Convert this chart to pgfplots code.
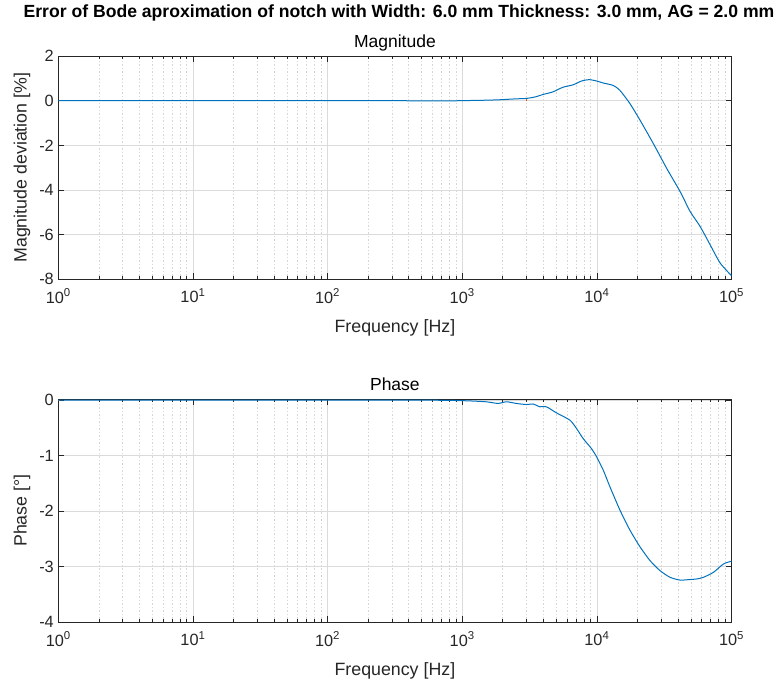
\documentclass[border=0pt]{standalone}
\usepackage{fontspec}
\setmainfont{Liberation Sans}
\usepackage{pgfplots}
\pgfplotsset{compat=1.18}
\definecolor{mblue}{rgb}{0,0.447,0.741}
\definecolor{morange}{rgb}{0.85,0.325,0.098}
\definecolor{mgray}{rgb}{0.15,0.15,0.15}
\pgfplotsset{
 mstyle/.style={
  scale only axis, width=673.2pt, height=223.3pt,
  xmin=1, xmax=100000,
  xtick={1,10,100,1000,10000,100000},
  xticklabels={10\textsuperscript{0},10\textsuperscript{1},10\textsuperscript{2},10\textsuperscript{3},10\textsuperscript{4},10\textsuperscript{5}},
  minor xtick={2,3,4,5,6,7,8,9,20,30,40,50,60,70,80,90,200,300,400,500,600,700,800,900,2000,3000,4000,5000,6000,7000,8000,9000,20000,30000,40000,50000,60000,70000,80000,90000},
  grid=both,
  major grid style={line width=0.6pt, draw=black!14},
  minor grid style={line width=0.6pt, draw=black!16, dash pattern=on 1.5pt off 2pt},
  axis line style={draw=mgray, line width=0.7pt},
  tick style={draw=mgray, line width=0.6pt},
  major tick length=6pt, minor tick length=3.5pt,
  tick align=inside,
  ticklabel style={font=\fontsize{16.3}{18}\selectfont, text=mgray},
  xticklabel style={yshift=-6pt},
  yticklabel style={xshift=-1pt},
  label style={font=\fontsize{17.8}{20}\selectfont, text=mgray},
  every axis title shift=0pt,
  title style={font=\fontsize{17.5}{20}\selectfont, text=black, at={(axis description cs:0.5,1)}, anchor=base, yshift=8pt},
  xlabel style={at={(axis description cs:0.5,-0.218)}, anchor=center},
  ylabel style={at={(axis description cs:-0.054,0.5)}, anchor=center},
  /pgf/number format/assume math mode=true,
  xlabel={Frequency [Hz]},
 }
}
\begin{document}
\begin{tikzpicture}
\useasboundingbox (0,0) rectangle (782pt,684pt);
\node[font=\bfseries\fontsize{17.6}{19}\selectfont] at (399pt,671pt) {Error of Bode aproximation of notch with Width: 6.0 mm Thickness: 3.0 mm, AG = 2.0 mm};
\begin{semilogxaxis}[mstyle, at={(58.3pt,404.7pt)}, anchor=south west,
  ymin=-8, ymax=2, ytick={-8,-6,-4,-2,0,2},
  title={Magnitude}, ylabel={Magnitude deviation [\%]}]
\addplot[morange, line width=1.2pt] coordinates {(3000,0.12) (3000,0.0)};
\addplot[mblue, line width=1pt, smooth, tension=0.4] coordinates {
(1,0) (10,0) (100,0) (300,0) (500,-0.01) (800,-0.01) (1000,0.0) (1500,0.02)
(1900,0.04) (2500,0.08) (3000,0.1) (3500,0.17) (4000,0.28) (4700,0.39)
(5600,0.6) (6670,0.71) (7700,0.88) (8770,0.94) (9950,0.88) (11150,0.79)
(13240,0.68) (14840,0.46) (17600,-0.13) (20900,-0.87) (26250,-1.92)
(33000,-3.03) (41500,-4.07) (49250,-4.96) (58430,-5.63) (69340,-6.45)
(82340,-7.27) (100000,-7.84)};
\end{semilogxaxis}
\begin{semilogxaxis}[mstyle, at={(58.3pt,61.7pt)}, anchor=south west,
  ymin=-4, ymax=0.02, ytick={-4,-3,-2,-1,0},
  title={Phase}, ylabel={Phase [°]}]
\addplot[morange, line width=1.2pt] coordinates {(1,0.0) (1.03,0.0)};
\addplot[mblue, line width=1pt, smooth, tension=0.4] coordinates {
(1,0.0) (100,0.0) (500,0.0) (1000,-0.01) (1500,-0.03) (1845,-0.06) (2130,-0.03)
(2520,-0.06) (3000,-0.08) (3360,-0.07) (3770,-0.12) (4220,-0.12) (5010,-0.23)
(6300,-0.36) (7060,-0.51) (7900,-0.69) (9100,-0.87) (9950,-1.02) (11150,-1.26)
(12500,-1.56) (14840,-1.98) (17600,-2.34) (20900,-2.64) (24830,-2.89)
(29450,-3.07) (34940,-3.19) (41500,-3.24) (49250,-3.23) (55200,-3.22)
(61900,-3.19) (73460,-3.10) (87170,-2.95) (100000,-2.90)};
\end{semilogxaxis}
\end{tikzpicture}
\end{document}
